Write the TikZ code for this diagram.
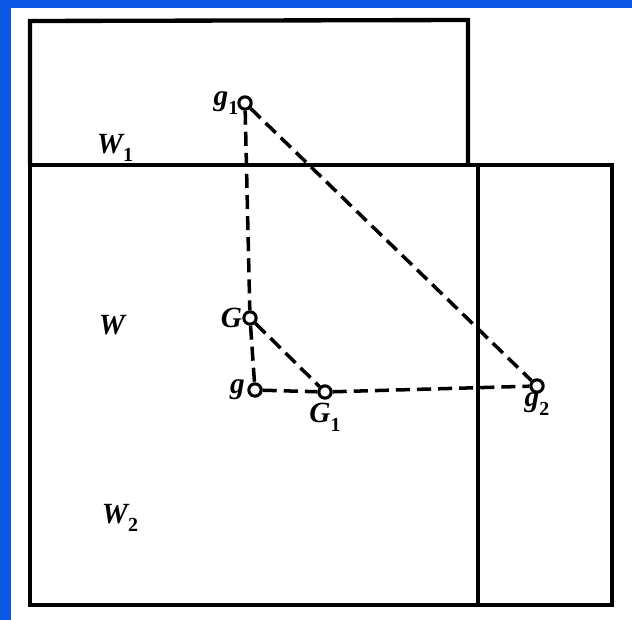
\documentclass[tikz,border=0pt]{standalone}
\usepackage{fontspec}
\setmainfont{Liberation Serif}
\usetikzlibrary{positioning}
\definecolor{slideblue}{RGB}{12,88,228}
\newcommand{\lowidx}[1]{\raisebox{-0.3em}{\fontsize{17}{19}\selectfont\bfseries\upshape #1}}
\begin{document}
\begin{tikzpicture}[x=0.03cm,y=-0.03cm,
	pt/.style={circle,draw,fill=white,line width=2.6pt,inner sep=0pt,minimum size=10.5pt},
	frame/.style={line width=3.7pt},
	link/.style={line width=3pt,dash pattern=on 12pt off 6pt},
	lbl/.style={font=\fontsize{25}{28}\selectfont\bfseries\itshape,inner sep=1pt}]
		%background
		\fill[slideblue] (0,0) rectangle (632,620);
		\fill[white] (11,8) rectangle (632,620);
		\useasboundingbox (0,0) rectangle (632,620);
		%regions
		\draw[frame] (30,165) -- (30,21) -- (468,20) -- (468,165);
		\draw[frame] (30,165) rectangle (612,605);
		\draw[frame] (478,165) -- (478,605);
		\node[lbl] (w1) at (115,148) {W\lowidx{1}};
		\node[lbl] (w) at (112,325) {W};
		\node[lbl] (w2) at (120,518) {W\lowidx{2}};
		%points
		\node[pt] (g1) at (245,103) {};
		\node[pt] (G) at (250,318) {};
		\node[pt] (g) at (255,390) {};
		\node[pt] (G1) at (325,392) {};
		\node[pt] (g2) at (537,386) {};
		\node[lbl,left=-2pt of g1] (lg1) {g\lowidx{1}};
		\node[lbl,left=-1pt of G] (lG) {G};
		\node[lbl,left=1pt of g] (lg) {g};
		\node[lbl,below=2pt of G1] (lG1) {G\lowidx{1}};
		\node[lbl,below=-2pt of g2] (lg2) {g\lowidx{2}};
		%links
		\draw[link] (g1) -- (G);
		\draw[link] (G) -- (g);
		\draw[link] (g1) -- (g2);
		\draw[link] (G) -- (G1);
		\draw[link] (g) -- (G1);
		\draw[link] (G1) -- (g2);
	\end{tikzpicture}
\end{document}
